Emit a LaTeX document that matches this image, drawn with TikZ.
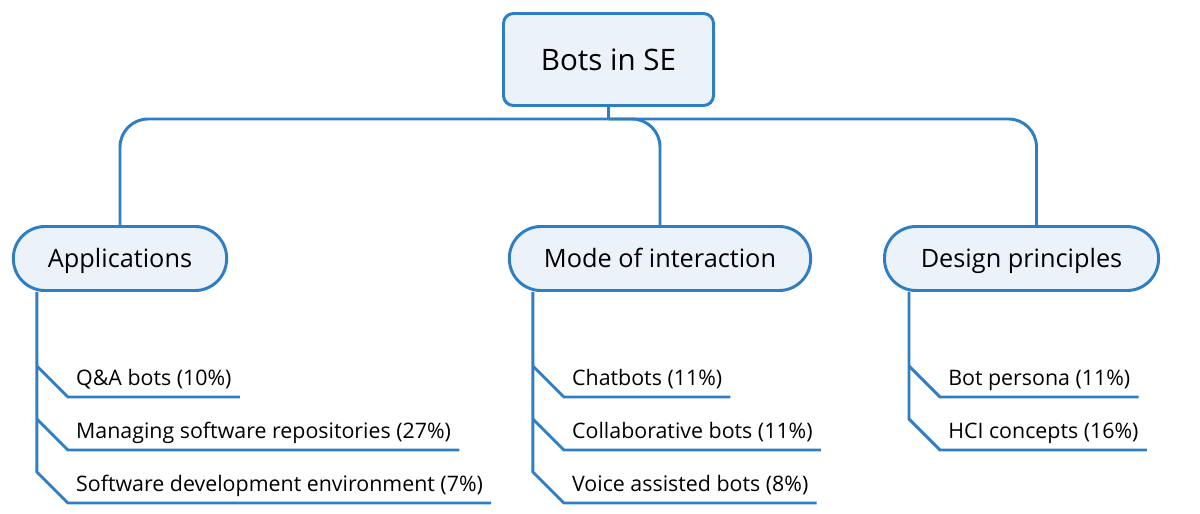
\documentclass[tikz,border=0pt]{standalone}
\usepackage{fontspec}
\setmainfont{Open Sans}
\usepackage{xcolor}
\usepackage{tikz}
\usetikzlibrary{positioning, calc}

\definecolor{mapblue}{HTML}{2F7EC4}
\definecolor{mapfill}{HTML}{EBF2F9}

\begin{document}
\begin{tikzpicture}[
  x=0.025cm, y=-0.025cm,
  root/.style={draw=mapblue, fill=mapfill, line width=2.1pt, rounded corners=0.25cm,
               minimum width=5.25cm, minimum height=2.3cm, font=\fontsize{21}{25}\selectfont},
  topic/.style={draw=mapblue, fill=mapfill, line width=2.1pt, rounded corners=0.79cm,
                minimum height=1.6cm, text height=16pt, text depth=2.7pt,
                font=\fontsize{18}{21}\selectfont},
  leaf/.style={anchor=south west, inner xsep=0.2cm, inner ysep=0.275cm, text depth=0pt,
               font=\fontsize{15.2}{18}\selectfont},
  link/.style={draw=mapblue, line width=2.1pt, rounded corners=0.7cm},
  twig/.style={draw=mapblue, line width=2.1pt},
]
  \useasboundingbox (0,0) rectangle (1200,513);

  \node[root] (bots) at (608.5,59.5) {Bots in SE};
  \node[topic, minimum width=5.33cm] (app) at (120,258.5) {Applications};
  \node[topic, minimum width=7.53cm] (mode) at (660,258.5) {Mode of interaction};
  \node[topic, minimum width=6.85cm] (design) at (1021.5,258.5) {Design principles};

  % root to topics
  \draw[twig] (bots.south) -- ++(0,12) coordinate (hub);
  \draw[link] (hub) -| (app.north);
  \draw[link] (hub) -| (mode.north);
  \draw[link] (hub) -| ($(design.north)+(15,0)$);

  % trunks
  \coordinate (appT) at ($(app.south west)+(25,0)$);
  \coordinate (modeT) at ($(mode.south west)+(25,0)$);
  \coordinate (designT) at ($(design.south west)+(26,0)$);

  \node[leaf] (qa) at ($(appT)+(31,105)$) {Q\&A bots (10\%)};
  \node[leaf] (repo) at ($(appT)+(31,158)$) {Managing software repositories (27\%)};
  \node[leaf] (sde) at ($(appT)+(31,211)$) {Software development environment (7\%)};

  \node[leaf] (chat) at ($(modeT)+(31,105)$) {Chatbots (11\%)};
  \node[leaf] (collab) at ($(modeT)+(31,158)$) {Collaborative bots (11\%)};
  \node[leaf] (voice) at ($(modeT)+(31,211)$) {Voice assisted bots (8\%)};

  \node[leaf] (persona) at ($(designT)+(31,105)$) {Bot persona (11\%)};
  \node[leaf] (hci) at ($(designT)+(31,158)$) {HCI concepts (16\%)};

  % applications
  \draw[twig] (appT) -- ($(appT |- sde.south)+(0,-31)$) -- (sde.south west) -- (sde.south east);
  \draw[twig] ($(appT |- qa.south)+(0,-31)$) -- (qa.south west) -- (qa.south east);
  \draw[twig] ($(appT |- repo.south)+(0,-31)$) -- (repo.south west) -- (repo.south east);

  % mode of interaction
  \draw[twig] (modeT) -- ($(modeT |- voice.south)+(0,-31)$) -- (voice.south west) -- (voice.south east);
  \draw[twig] ($(modeT |- chat.south)+(0,-31)$) -- (chat.south west) -- (chat.south east);
  \draw[twig] ($(modeT |- collab.south)+(0,-31)$) -- (collab.south west) -- (collab.south east);

  % design principles
  \draw[twig] (designT) -- ($(designT |- hci.south)+(0,-31)$) -- (hci.south west) -- (hci.south east);
  \draw[twig] ($(designT |- persona.south)+(0,-31)$) -- (persona.south west) -- (persona.south east);

\end{tikzpicture}
\end{document}
